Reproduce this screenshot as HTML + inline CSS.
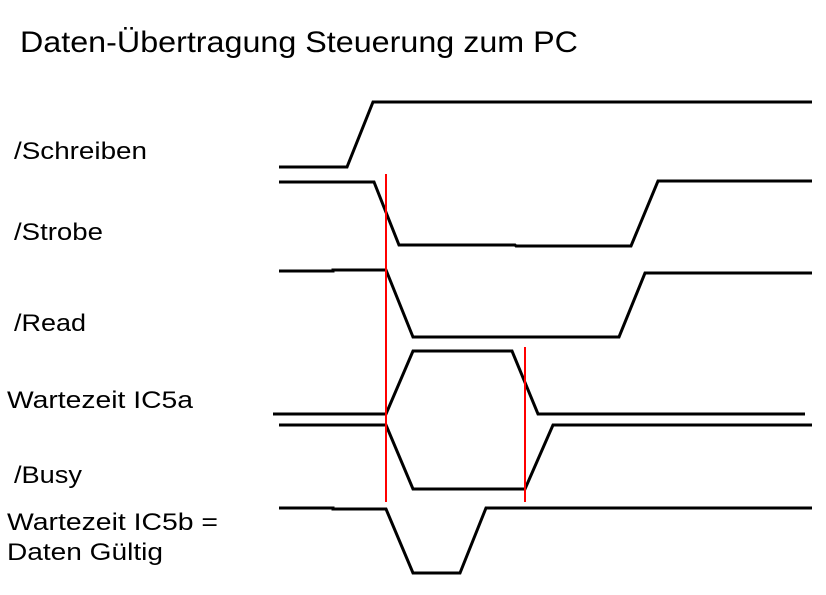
<!DOCTYPE html>
<html><head><meta charset="utf-8"><style>
html,body{margin:0;padding:0;background:#fff;}
svg text{font-family:"Liberation Sans",Arial,sans-serif;fill:#000;}
</style></head><body>
<svg width="826" height="590" viewBox="0 0 826 590" xmlns="http://www.w3.org/2000/svg">
<rect width="826" height="590" fill="#fff"/>
<text x="20" y="52" font-size="30" textLength="558" lengthAdjust="spacingAndGlyphs">Daten-Übertragung Steuerung zum PC</text>
<g font-size="24">
<text x="14" y="159" textLength="133" lengthAdjust="spacingAndGlyphs">/Schreiben</text>
<text x="14" y="240" textLength="89" lengthAdjust="spacingAndGlyphs">/Strobe</text>
<text x="14" y="331" textLength="72" lengthAdjust="spacingAndGlyphs">/Read</text>
<text x="7" y="408" textLength="186" lengthAdjust="spacingAndGlyphs">Wartezeit IC5a</text>
<text x="14" y="483" textLength="68" lengthAdjust="spacingAndGlyphs">/Busy</text>
<text x="7" y="530" textLength="211" lengthAdjust="spacingAndGlyphs">Wartezeit IC5b =</text>
<text x="7" y="560" textLength="156" lengthAdjust="spacingAndGlyphs">Daten Gültig</text>
</g>
<g fill="none" stroke="#000" stroke-width="3">
<polyline points="279,167 347,167 373,102 812,102"/>
<polyline points="279,182 374,182 399,245 515,245 516,246 631,246 658,181 812,181"/>
<polyline points="279,271 333,271 333,270 386,270 413,337 619,337 645,273 812,273"/>
<polyline points="273,414 386,414 413,351 512,351 538,414 805,414"/>
<polyline points="279,425 386,425 413,489 525,489 553,425 812,425"/>
<polyline points="279,508 333,508 333,509 386,509 413,573 460,573 486,508 812,508"/>
</g>
<g stroke="#f00" stroke-width="2">
<line x1="386" y1="174" x2="386" y2="502"/>
<line x1="525" y1="347" x2="525" y2="502"/>
</g>
</svg>
</body></html>
